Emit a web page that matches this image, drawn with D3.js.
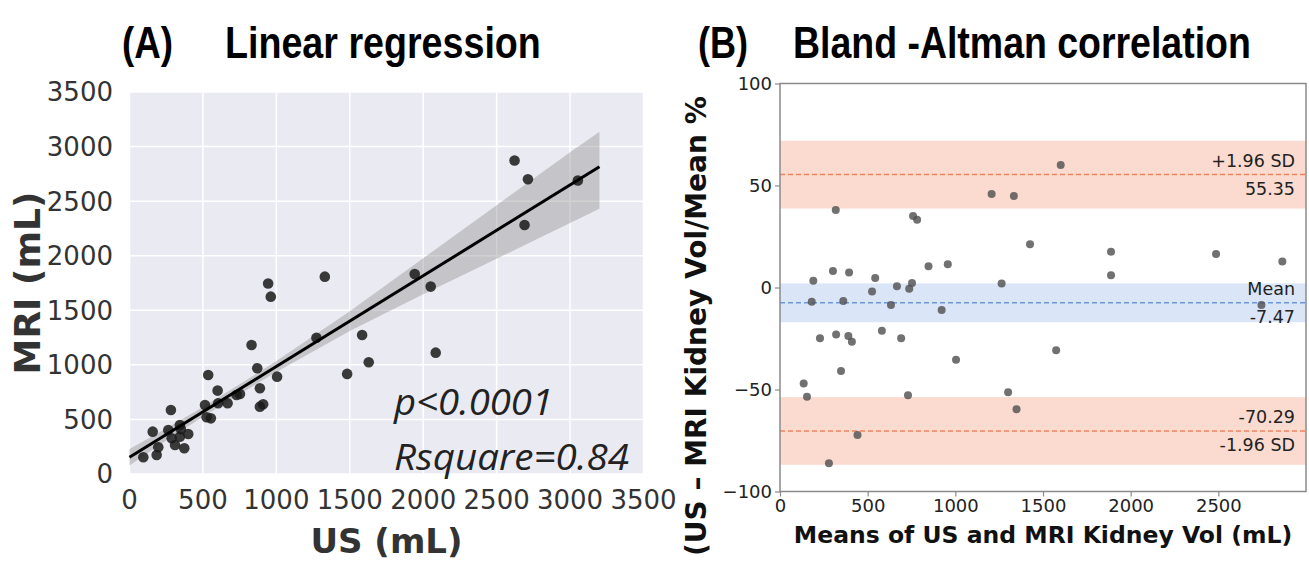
<!DOCTYPE html>
<html>
<head>
<meta charset="utf-8">
<script src="https://cdn.jsdelivr.net/npm/d3@7"></script>
<style>
  html, body { margin: 0; padding: 0; background: #fff; }
  svg { display: block; }
</style>
</head>
<body>
<svg id="chart" width="1309" height="563"></svg>
<script>
// ---------- Panel A data (US vs MRI, mL) ----------
const usVol  = [94,185,196,310,373,287,343,400,158,264,350,343,282,525,554,514,604,668,729,752,600,888,888,910,536,870,1005,831,944,962,1330,1273,1584,1629,1482,1942,2051,2085,2622,2713,3053,2690];
const mriVol = [153,174,245,266,236,327,342,367,388,403,410,449,587,520,510,632,648,648,724,733,764,786,617,639,907,969,892,1182,1746,1625,1808,1249,1274,1024,917,1833,1717,1112,2872,2701,2689,2282];
const regLineX = [0, 3200];
const regLineY = [153, 2815];
const bandX     = [0, 250, 500, 750, 1000, 1500, 2000, 2500, 3000, 3200];
const bandUpper = [228, 416, 614, 822, 1035, 1491, 1977, 2463, 2949, 3135];
const bandLower = [78, 306, 524, 732, 935, 1311, 1647, 1973, 2299, 2430];
const aTicks = [0, 500, 1000, 1500, 2000, 2500, 3000, 3500];
const statTexts = ["p<0.0001", "Rsquare=0.84"];

// ---------- Panel B data (Bland-Altman) ----------
const baMean = [190,181,318,302,361,394,525,543,633,667,737,753,759,782,847,957,922,1207,1264,1334,1426,1601,1888,1888,2487,2865,2746,228,320,390,410,581,691,348,135,154,730,442,279,1004,1301,1349,1575];
const baDiff = [3.3,-7,38,8.1,-6.6,7.3,-1.9,4.7,-8.6,0.6,-0.6,2.2,35,33.2,10.4,11.4,-11,45.8,1.9,44.9,21.2,60,17.5,6,16.4,12.8,-8.6,-24.9,-23,-23.8,-26.6,-21.2,-24.9,-40.9,-47,-53.5,-52.8,-72.3,-86.2,-35.4,-51.4,-59.7,-30.8];
const limitValues = [55.35, -7.47, -70.29];
const limitBandLo = [38.7, -17.0, -86.9];
const limitBandHi = [71.9, 2.0, -53.7];
const limitLabelAbove = ["+1.96 SD", "Mean", "-70.29"];
const limitLabelBelow = ["55.35", "-7.47", "-1.96 SD"];
const limitKinds = ["sd", "mean", "sd"];
const bXTicks = [0, 500, 1000, 1500, 2000, 2500];
const bYTicks = [-100, -50, 0, 50, 100];

const svg = d3.select("#chart");
const titleFont = "'Liberation Sans Narrow', 'Arial Narrow', 'Liberation Sans', sans-serif";

// ---------- Titles (condensed bold, scaled to the measured width) ----------
function title(x, txt, len) {
  const t = svg.append("text").attr("x", 0).attr("y", 0)
    .attr("font-family", titleFont).attr("font-weight", "bold").attr("font-size", 45)
    .attr("fill", "#000").text(txt);
  const natural = t.node().getComputedTextLength();
  const s = len / natural;
  t.attr("transform", `translate(${x},58) scale(${s},1)`);
}
title(122, "(A)", 51);
title(225, "Linear regression", 316);
title(698, "(B)", 50);
title(793, "Bland -Altman correlation", 458);

// ---------- Panel A ----------
const ax = d3.scaleLinear().domain([0, 3500]).range([129.5, 643.5]);
const ay = d3.scaleLinear().domain([0, 3500]).range([474, 92]);
const gA = svg.append("g");
gA.append("rect").attr("x", ax(0)).attr("y", ay(3500))
  .attr("width", ax(3500) - ax(0)).attr("height", ay(0) - ay(3500)).attr("fill", "#eaeaf2");
gA.append("g").selectAll("line.vx").data(aTicks).join("line")
  .attr("x1", d => ax(d)).attr("x2", d => ax(d)).attr("y1", ay(0)).attr("y2", ay(3500))
  .attr("stroke", "#fff").attr("stroke-width", 1.5);
gA.append("g").selectAll("line.hy").data(aTicks).join("line")
  .attr("y1", d => ay(d)).attr("y2", d => ay(d)).attr("x1", ax(0)).attr("x2", ax(3500))
  .attr("stroke", "#fff").attr("stroke-width", 1.5);

const bandData = bandX.map((x, i) => ({x, lo: bandLower[i], hi: bandUpper[i]}));
gA.append("path").datum(bandData)
  .attr("d", d3.area().x(d => ax(d.x)).y0(d => ay(d.lo)).y1(d => ay(d.hi)))
  .attr("fill", "#8c8c8c").attr("fill-opacity", 0.4);

gA.append("g").selectAll("circle").data(usVol.map((x, i) => [x, mriVol[i]])).join("circle")
  .attr("cx", d => ax(d[0])).attr("cy", d => ay(d[1])).attr("r", 5.3)
  .attr("fill", "#1a1a1a").attr("fill-opacity", 0.85);

gA.append("path").datum(regLineX.map((x, i) => [x, regLineY[i]]))
  .attr("d", d3.line().x(d => ax(d[0])).y(d => ay(d[1])))
  .attr("stroke", "#000").attr("stroke-width", 3).attr("fill", "none");

// tick labels
const tickFont = "'DejaVu Sans', sans-serif";
gA.append("g").selectAll("text").data(aTicks).join("text")
  .attr("x", 113).attr("y", d => ay(d)).attr("dy", "0.36em")
  .attr("text-anchor", "end").attr("font-family", tickFont).attr("font-size", 26)
  .attr("fill", "#333").text(d => d);
gA.append("g").selectAll("text").data(aTicks).join("text")
  .attr("x", d => ax(d)).attr("y", 509)
  .attr("text-anchor", "middle").attr("font-family", tickFont).attr("font-size", 26)
  .attr("fill", "#333").text(d => d);

gA.append("text").attr("x", ax(1750)).attr("y", 553).attr("text-anchor", "middle")
  .attr("font-family", tickFont).attr("font-weight", "bold").attr("font-size", 34)
  .attr("fill", "#333").text("US (mL)");
gA.append("text").attr("transform", `translate(40,${ay(1750)}) rotate(-90)`).attr("text-anchor", "middle")
  .attr("font-family", tickFont).attr("font-weight", "bold").attr("font-size", 36)
  .attr("fill", "#333").text("MRI (mL)");

gA.append("text").attr("x", 394).attr("y", 415)
  .attr("font-family", "'Open Sans', 'DejaVu Sans', sans-serif").attr("font-style", "italic").attr("font-size", 36)
  .attr("textLength", 159).attr("lengthAdjust", "spacingAndGlyphs")
  .attr("fill", "#222").text(statTexts[0]);
gA.append("text").attr("x", 394).attr("y", 470)
  .attr("font-family", "'Open Sans', 'DejaVu Sans', sans-serif").attr("font-style", "italic").attr("font-size", 36)
  .attr("textLength", 235).attr("lengthAdjust", "spacingAndGlyphs")
  .attr("fill", "#222").text(statTexts[1]);

// ---------- Panel B ----------
const bx = d3.scaleLinear().domain([0, 3000]).range([780, 1306]);
const by = d3.scaleLinear().domain([-100, 100]).range([491.5, 83.5]);
const gB = svg.append("g");

const limData = limitValues.map((v, i) => ({v, lo: limitBandLo[i], hi: limitBandHi[i], kind: limitKinds[i], above: limitLabelAbove[i], below: limitLabelBelow[i]}));
gB.append("g").selectAll("rect").data(limData).join("rect")
  .attr("x", bx(0)).attr("width", bx(3000) - bx(0))
  .attr("y", d => by(d.hi)).attr("height", d => by(d.lo) - by(d.hi))
  .attr("fill", d => d.kind === "sd" ? "#f6a58a" : "#a4bfee").attr("fill-opacity", 0.4);
gB.append("g").selectAll("line").data(limData).join("line")
  .attr("x1", bx(0)).attr("x2", bx(3000)).attr("y1", d => by(d.v)).attr("y2", d => by(d.v))
  .attr("stroke", d => d.kind === "sd" ? "#f0845e" : "#6b97e0").attr("stroke-width", 1.5)
  .attr("stroke-dasharray", "5,3");

gB.append("g").selectAll("circle").data(baMean.map((m, i) => [m, baDiff[i]])).join("circle")
  .attr("cx", d => bx(d[0])).attr("cy", d => by(d[1])).attr("r", 4)
  .attr("fill", "#4d4d4d").attr("fill-opacity", 0.8);

gB.append("g").selectAll("text.ab").data(limData).join("text")
  .attr("x", 1295).attr("y", d => by(d.v) - 7.5).attr("text-anchor", "end")
  .attr("font-family", tickFont).attr("font-size", 17.5).attr("fill", "#222").text(d => d.above);
gB.append("g").selectAll("text.bl").data(limData).join("text")
  .attr("x", 1295).attr("y", d => by(d.v) + 20.5).attr("text-anchor", "end")
  .attr("font-family", tickFont).attr("font-size", 17.5).attr("fill", "#222").text(d => d.below);

// frame
gB.append("rect").attr("x", bx(0)).attr("y", by(100)).attr("width", bx(3000) - bx(0))
  .attr("height", by(-100) - by(100)).attr("fill", "none").attr("stroke", "#8a8a8a").attr("stroke-width", 1.5);

const xAxisB = gB.append("g").attr("transform", `translate(0,${by(-100)})`)
  .call(d3.axisBottom(bx).tickValues(bXTicks).tickSize(5).tickPadding(3).tickFormat(d3.format("d")));
const yAxisB = gB.append("g").attr("transform", `translate(${bx(0)},0)`)
  .call(d3.axisLeft(by).tickValues(bYTicks).tickSize(5).tickPadding(3).tickFormat(d3.format("d")));
[xAxisB, yAxisB].forEach(g => {
  g.select(".domain").remove();
  g.selectAll(".tick line").attr("stroke", "#8a8a8a").attr("stroke-width", 1.2);
  g.selectAll(".tick text").attr("font-family", tickFont).attr("font-size", 18).attr("fill", "#222");
});

gB.append("text").attr("x", 1043).attr("y", 543).attr("text-anchor", "middle")
  .attr("font-family", tickFont).attr("font-weight", "bold").attr("font-size", 23.5)
  .attr("fill", "#111").text("Means of US and MRI Kidney Vol (mL)");
gB.append("text").attr("transform", `translate(706,556) rotate(-90)`).attr("text-anchor", "start")
  .attr("font-family", tickFont).attr("font-weight", "bold").attr("font-size", 28)
  .attr("fill", "#111").text("(US – MRI Kidney Vol/Mean %");
</script>
</body>
</html>
